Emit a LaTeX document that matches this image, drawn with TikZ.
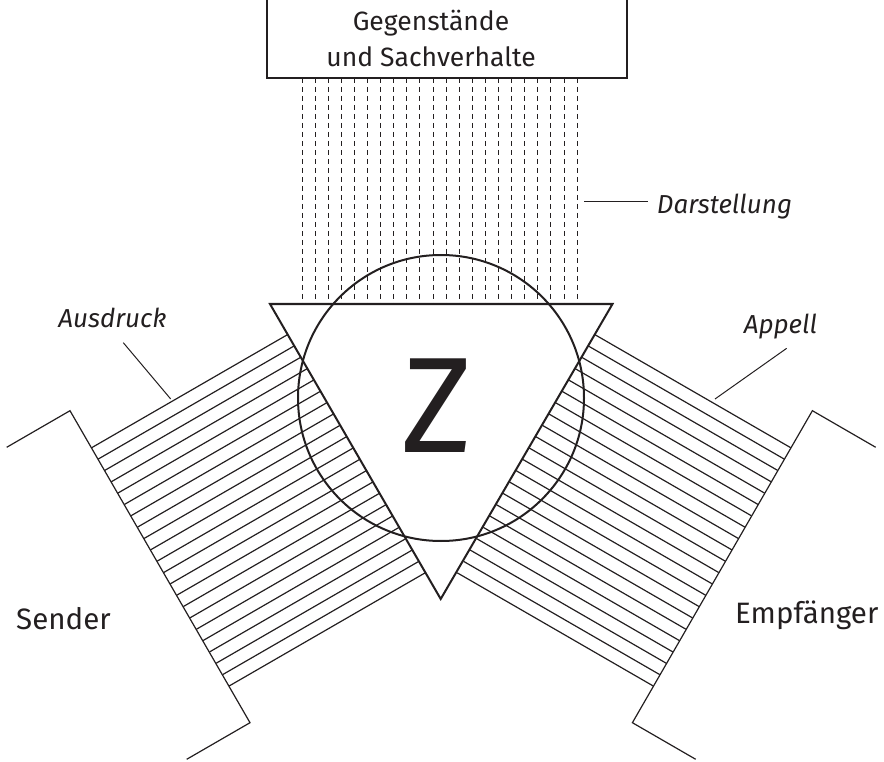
\documentclass[tikz,border=0pt]{standalone}
\usepackage{fontspec}
\setmainfont{Fira Sans}
\definecolor{ink}{RGB}{35,31,32}
\begin{document}
\begin{tikzpicture}[x=1pt,y=-1pt,
  thinline/.style={line width=1.2pt, draw=ink},
  dashline/.style={line width=1pt, draw=ink, dash pattern=on 5pt off 4pt},
  boldline/.style={line width=2pt, draw=ink},
  leaderline/.style={line width=1pt, draw=ink},
  lbl/.style={inner sep=0pt, text=ink}]
\useasboundingbox (0,0) rectangle (884,762);
% top box
\draw[thinline] (267,0) -- (267,78) -- (627,78) -- (627,0);
\node[lbl, anchor=base] (geg) at (431,30.7) {\fontsize{26.5}{30}\selectfont Gegenstände};
\node[lbl, anchor=base] (sach) at (431,66.7) {\fontsize{26.5}{30}\selectfont und Sachverhalte};
% dashed bundle (Darstellung)
\foreach \i in {0,...,21} {
  \draw[dashline] ({302+\i*13.1},78) -- ({302+\i*13.1},304);
}
% left bundle (Ausdruck)
\foreach \i in {0,...,21} {
  \draw[thinline] ({91.7+\i*13.1*0.5},{447.7+\i*13.1*0.866}) -- ++({226.3*0.866},{-226.3*0.5});
}
% right bundle (Appell)
\foreach \i in {0,...,21} {
  \draw[thinline] ({790.7-\i*13.1*0.5},{447.7+\i*13.1*0.866}) -- ++({-226.3*0.866},{-226.3*0.5});
}
% sender outline
\draw[thinline] (6.7,447.3) -- (70,410.7) -- (250,722.7) -- (186.7,759.3);
% receiver outline
\draw[thinline] (875.7,447.3) -- (812.4,410.7) -- (632.4,722.7) -- (695.7,759.3);
% triangle and circle
\draw[boldline, line join=miter] (270,304) -- (612.5,304) -- (440.7,599) -- cycle;
\draw[boldline] (441,398) circle[radius=143];
\node[lbl, anchor=base] (z) at (437,452) {\fontsize{136}{140}\selectfont Z};
% labels
\coordinate (darA) at (584,202);
\coordinate (darB) at (648.3,202);
\draw[leaderline] (darA) -- (darB);
\node[lbl, anchor=base west] (dar) at (656.7,213.3) {\fontsize{26}{30}\selectfont\itshape Darstellung};
\coordinate (ausA) at (123.3,342.7);
\coordinate (ausB) at (170.7,399);
\draw[leaderline] (ausA) -- (ausB);
\node[lbl, anchor=base] (aus) at (112.5,327) {\fontsize{26}{30}\selectfont\itshape Ausdruck};
\coordinate (appA) at (786.7,348.3);
\coordinate (appB) at (715,399);
\draw[leaderline] (appA) -- (appB);
\node[lbl, anchor=base] (app) at (780.5,333) {\fontsize{26}{30}\selectfont\itshape Appell};
\node[lbl, anchor=base west] (sender) at (16,629) {\fontsize{29.5}{34}\selectfont Sender};
\node[lbl, anchor=base west] (empf) at (735,623.3) {\fontsize{29.5}{34}\selectfont Empfänger};
\end{tikzpicture}
\end{document}
